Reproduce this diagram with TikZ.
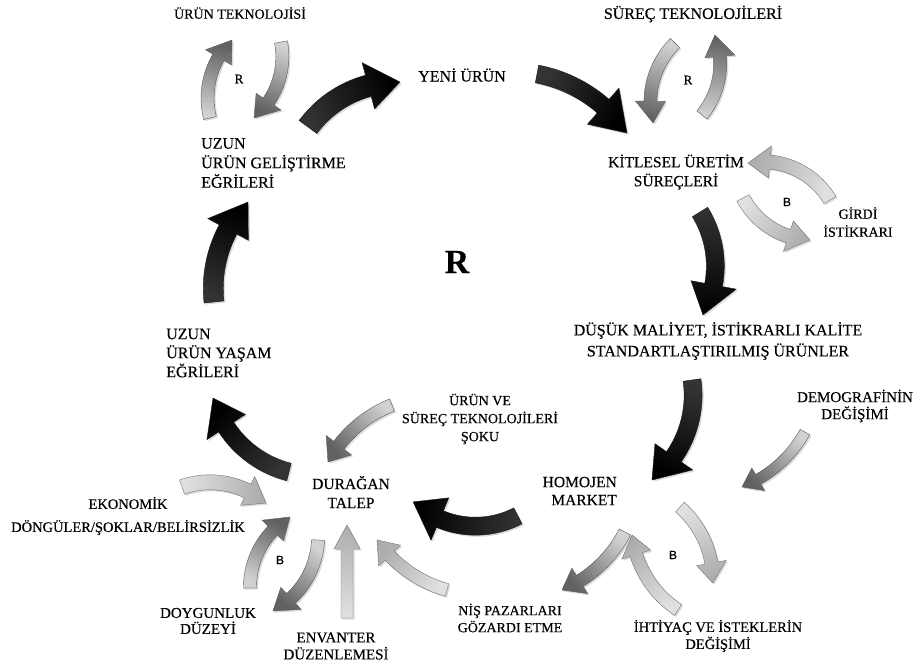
\documentclass[tikz,border=0pt]{standalone}
\usepackage{fontspec}
\setmainfont{Liberation Serif}[FakeBold=0.35]
\newfontfamily\lsans{Liberation Sans}[FakeBold=0.3]
\usetikzlibrary{shadows}

\tikzset{
  lbl/.style={font=\fontsize{15}{19}\selectfont, align=center, inner sep=0pt},
  fs/.style 2 args={font=\fontsize{#1}{#2}\selectfont},
  loopmark/.style={font=\fontsize{13}{13}\selectfont, inner sep=0pt},
  sansmark/.style={font=\lsans\fontsize{12}{12}\selectfont, inner sep=0pt},
  arrowshadow/.style={drop shadow={opacity=0.28, shadow xshift=1.6pt, shadow yshift=-1.6pt}},
  darkarrow/.style={bottom color=black!80, middle color=black!58, top color=black, draw=black!90, line width=0.4pt, arrowshadow},
  grayarrow/.style={bottom color=black!18, top color=black!62, draw=black!65, line width=0.4pt, arrowshadow},
  lightarrow/.style={bottom color=black!12, top color=black!32, draw=black!55, line width=0.4pt, arrowshadow},
}

% Block arrow along a circular arc.
% #1 style, (#2,#3) tail centre, (#4,#5) tip, #6 signed sweep (deg, ccw>0),
% #7 shaft width, #8 head width, #9 head length. Inputs in pt, y downwards.
\newcommand\bentarrow[9]{%
  \pgfmathsetmacro\baAx{#2}%
  \pgfmathsetmacro\baAy{-(#3)}%
  \pgfmathsetmacro\baBx{#4}%
  \pgfmathsetmacro\baBy{-(#5)}%
  \pgfmathsetmacro\baK{cot((#6)/2)/2}%
  \pgfmathsetmacro\baCx{((\baAx)+(\baBx))/2-(\baK)*((\baBy)-(\baAy))}%
  \pgfmathsetmacro\baCy{((\baAy)+(\baBy))/2+(\baK)*((\baBx)-(\baAx))}%
  \pgfmathsetmacro\baR{veclen((\baAx)-(\baCx),(\baAy)-(\baCy))}%
  \pgfmathsetmacro\baS{atan2((\baAy)-(\baCy),(\baAx)-(\baCx))}%
  \pgfmathsetmacro\baE{(\baS)+(#6)}%
  \pgfmathsetmacro\baM{(\baE)-sign(#6)*deg((#9)/(\baR))}%
  \pgfmathsetmacro\baSh{atan2((\baBy)-(\baAy),(\baBx)-(\baAx))-90}%
  \pgfmathsetmacro\baRo{(\baR)+(#7)/2}%
  \pgfmathsetmacro\baRi{(\baR)-(#7)/2}%
  \pgfmathsetmacro\baHo{(\baR)+(#8)/2}%
  \pgfmathsetmacro\baHi{(\baR)-(#8)/2}%
  \path[#1, shading angle=\baSh]
    ([shift={(\baCx pt,\baCy pt)}]\baS:\baRo pt)
      arc[start angle=\baS, end angle=\baM, radius=\baRo pt]
    -- ([shift={(\baCx pt,\baCy pt)}]\baM:\baHo pt)
    -- ([shift={(\baCx pt,\baCy pt)}]\baE:\baR pt)
    -- ([shift={(\baCx pt,\baCy pt)}]\baM:\baHi pt)
    -- ([shift={(\baCx pt,\baCy pt)}]\baM:\baRi pt)
      arc[start angle=\baM, end angle=\baS, radius=\baRi pt]
    -- cycle;
}

\begin{document}
\begin{tikzpicture}[x=1pt, y=-1pt]
  \fill[white] (0,0) rectangle (916,666);
  \useasboundingbox (0,0) rectangle (916,666);

  % ---- labels ----
  \node[lbl, fs={14}{19}] (urtek) at (240,13) {ÜRÜN TEKNOLOJİSİ};
  \node[loopmark] (r1) at (239,79) {R};
  \node[lbl, fs={16}{19.5}, align=left, anchor=west] (uzungel) at (201,163) {UZUN\\ÜRÜN GELİŞTİRME\\EĞRİLERİ};
  \node[lbl, fs={16}{19}] (yeni) at (462,75) {YENİ ÜRÜN};
  \node[lbl, fs={16}{19}] (surtek) at (693,14) {SÜREÇ TEKNOLOJİLERİ};
  \node[loopmark] (r2) at (688,80) {R};
  \node[lbl, fs={15.5}{19}] (kitle) at (676,172) {KİTLESEL ÜRETİM\\SÜREÇLERİ};
  \node[sansmark] (b1) at (787,202) {B};
  \node[lbl, fs={14}{18}] (girdi) at (858,222) {GİRDİ\\İSTİKRARI};
  \node[lbl, font=\bfseries\fontsize{34}{34}\selectfont] (bigr) at (457,262) {R};
  \node[lbl, fs={16}{21}] (dusuk) at (718,341) {DÜŞÜK MALİYET, İSTİKRARLI KALİTE\\STANDARTLAŞTIRILMIŞ ÜRÜNLER};
  \node[lbl, fs={16}{19}, align=left, anchor=west] (uzunyas) at (166,353) {UZUN\\ÜRÜN YAŞAM\\EĞRİLERİ};
  \node[lbl, fs={15}{17}] (demo) at (855,406) {DEMOGRAFİNİN\\DEĞİŞİMİ};
  \node[lbl, fs={14}{18}] (urunve) at (480,419) {ÜRÜN VE\\SÜREÇ TEKNOLOJİLERİ\\ŞOKU};
  \node[lbl, fs={15.5}{18}, align=right, anchor=east] (homojen) at (617,491) {HOMOJEN\\MARKET};
  \node[lbl, fs={15.5}{19}] (durag) at (351,492) {DURAĞAN\\TALEP};
  \node[lbl, fs={14.5}{23}] (ekon) at (128,516) {EKONOMİK\\DÖNGÜLER/ŞOKLAR/BELİRSİZLİK};
  \node[sansmark] (b2) at (280,560) {B};
  \node[lbl, fs={15}{16}] (doyg) at (208,621) {DOYGUNLUK\\DÜZEYİ};
  \node[lbl, fs={15}{17}] (envanter) at (336,646) {ENVANTER\\DÜZENLEMESİ};
  \node[lbl, fs={14}{17}] (nis) at (510,618) {NİŞ PAZARLARI\\GÖZARDI ETME};
  \node[sansmark] (b3) at (673,555) {B};
  \node[lbl, fs={14.5}{17}] (ihtiyac) at (718,636) {İHTİYAÇ VE İSTEKLERİN\\DEĞİŞİMİ};

  % ---- main reinforcing loop ----
  \bentarrow{darkarrow}{308}{127}{400}{82}{-55}{22}{48}{32}
  \bentarrow{darkarrow}{537}{74}{627}{133}{-45}{18}{48}{36}
  \bentarrow{darkarrow}{700}{212}{703}{315}{-60}{18}{46}{32}
  \bentarrow{darkarrow}{692}{380}{652}{480}{-60}{18}{46}{32}
  \bentarrow{darkarrow}{518}{516}{413}{502}{-70}{18}{46}{32}
  \bentarrow{darkarrow}{289}{472}{213}{398}{-60}{18}{46}{32}
  \bentarrow{darkarrow}{214}{302}{248}{202}{-50}{20}{46}{34}

  % ---- product technology loop ----
  \bentarrow{grayarrow}{210}{118}{232}{40}{-60}{13}{30}{22}
  \bentarrow{grayarrow}{281}{42}{254}{118}{-60}{13}{30}{22}

  % ---- process technology loop ----
  \bentarrow{grayarrow}{675}{43}{653}{123}{60}{13}{30}{22}
  \bentarrow{grayarrow}{702}{115}{715}{35}{60}{13}{30}{22}

  % ---- input stability loop ----
  \bentarrow{lightarrow}{830}{200}{748}{163}{70}{14}{32}{22}
  \bentarrow{lightarrow}{743}{198}{810}{240}{60}{14}{32}{22}

  % ---- influences on the homogeneous market ----
  \bentarrow{grayarrow}{805}{432}{742}{487}{-40}{11}{26}{18}
  \bentarrow{grayarrow}{625}{532}{562}{590}{-40}{13}{30}{20}
  \bentarrow{lightarrow}{678}{610}{632}{535}{-50}{13}{30}{20}
  \bentarrow{lightarrow}{680}{507}{713}{583}{-50}{13}{30}{20}

  % ---- influences on stable demand ----
  \bentarrow{grayarrow}{392}{405}{328}{462}{40}{13}{32}{20}
  \bentarrow{lightarrow}{182}{487}{266}{503}{-60}{15}{32}{22}
  \bentarrow{grayarrow}{250}{588}{290}{517}{-60}{13}{30}{22}
  \bentarrow{grayarrow}{318}{540}{273}{611}{-60}{13}{30}{22}
  \bentarrow{lightarrow}{447}{590}{377}{540}{-40}{13}{30}{20}
  \path[lightarrow]
    (341,618) -- (341,549) -- (334,549) -- (347,525) -- (360,549) -- (353,549) -- (353,618) -- cycle;
\end{tikzpicture}
\end{document}
